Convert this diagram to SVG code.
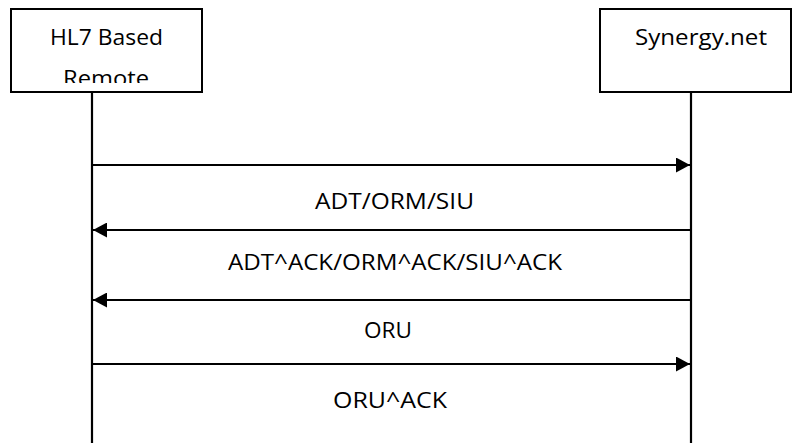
<svg xmlns="http://www.w3.org/2000/svg" width="793" height="443" viewBox="0 0 793 443">
<style>
  .box{fill:#fff;stroke:#000;stroke-width:2}
  .life{stroke:#000;stroke-width:2.2;fill:none}
  .msg{stroke:#000;stroke-width:1.8;fill:none}
  text{font-family:"Open Sans","Liberation Sans",sans-serif;font-size:22.5px;fill:#000}
</style>
<defs>
  <marker id="ah" viewBox="0 0 14 15" refX="14" refY="7.5" markerWidth="14" markerHeight="15" markerUnits="userSpaceOnUse" orient="auto">
    <path d="M0,0 L14,7.5 L0,15 Z" fill="#000"/>
  </marker>
  <clipPath id="clipL"><rect x="12" y="10" width="190" height="73"/></clipPath>
</defs>
<rect width="793" height="443" fill="#fff"/>
<g id="hl7">
  <rect class="box" x="11" y="9" width="191" height="83"/>
  <g clip-path="url(#clipL)">
    <text x="50" y="45" textLength="113" lengthAdjust="spacingAndGlyphs">HL7 Based</text>
    <text x="63" y="86" textLength="86" lengthAdjust="spacingAndGlyphs">Remote</text>
  </g>
  <line class="life" x1="92" y1="92" x2="92" y2="443"/>
</g>
<g id="synergy">
  <rect class="box" x="600" y="9" width="191" height="83"/>
  <text x="635" y="45" textLength="132" lengthAdjust="spacingAndGlyphs">Synergy.net</text>
  <line class="life" x1="691" y1="92" x2="691" y2="443"/>
</g>
<g id="connectors">
  <line class="msg" x1="93" y1="165" x2="690" y2="165" marker-end="url(#ah)"/>
  <line class="msg" x1="690" y1="230" x2="93" y2="230" marker-end="url(#ah)"/>
  <line class="msg" x1="690" y1="300" x2="93" y2="300" marker-end="url(#ah)"/>
  <line class="msg" x1="93" y1="364" x2="690" y2="364" marker-end="url(#ah)"/>
  <text x="315" y="209" textLength="159" lengthAdjust="spacingAndGlyphs">ADT/ORM/SIU</text>
  <text x="228" y="270" textLength="334" lengthAdjust="spacingAndGlyphs">ADT^ACK/ORM^ACK/SIU^ACK</text>
  <text x="364" y="338" textLength="48" lengthAdjust="spacingAndGlyphs">ORU</text>
  <text x="333" y="408" textLength="114" lengthAdjust="spacingAndGlyphs">ORU^ACK</text>
</g>
</svg>
